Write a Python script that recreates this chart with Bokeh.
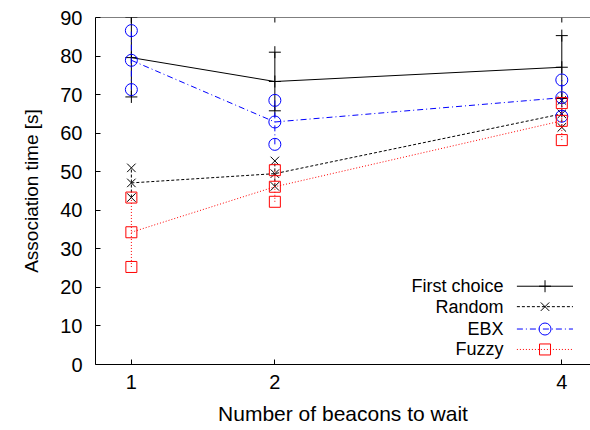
from bokeh.plotting import figure
from bokeh.models import FixedTicker, Range1d, Span
from bokeh.core.properties import value
from bokeh.embed import file_html
from bokeh.resources import INLINE

# ---- data ----
beacons = [1, 2, 4]
series_names = ["First choice", "Random", "EBX", "Fuzzy"]

first_mean = [79.6, 73.4, 77.1]
first_low = [69.4, 65.8, 69.0]
first_high = [90.0, 81.0, 85.3]

random_mean = [47.1, 49.5, 65.0]
random_low = [43.3, 46.2, 61.5]
random_high = [51.0, 52.8, 68.5]

ebx_mean = [78.9, 62.9, 69.2]
ebx_low = [71.3, 57.1, 64.4]
ebx_high = [86.6, 68.5, 73.8]

fuzzy_mean = [34.3, 46.1, 63.2]
fuzzy_low = [25.3, 42.2, 58.2]
fuzzy_high = [43.3, 50.4, 67.8]

y_ticks = [0, 10, 20, 30, 40, 50, 60, 70, 80, 90]
x_ticks = [1, 2, 4]

FONT = "Liberation Sans"
Y_MIN, Y_MAX = 0, 90

p = figure(width=590, height=430, output_backend="svg", toolbar_location=None,
           x_range=Range1d(0.75, 4.2), y_range=Range1d(Y_MIN, Y_MAX),
           min_border_left=95, min_border_right=0, min_border_top=17, min_border_bottom=66,
           x_axis_label="Number of beacons to wait", y_axis_label="Association time [s]")
p.outline_line_color = None
p.grid.visible = False
p.background_fill_color = "white"
p.border_fill_color = "white"

for ax in (p.xaxis[0], p.yaxis[0]):
    ax.major_tick_in = 5
    ax.major_tick_out = 0
    ax.minor_tick_in = 0
    ax.minor_tick_out = 0
    ax.axis_line_color = "black"
    ax.major_tick_line_color = "black"
    ax.major_label_text_font = FONT
    ax.major_label_text_font_size = "20px"
    ax.major_label_text_color = "black"
    ax.axis_label_text_font = FONT
    ax.axis_label_text_font_style = "normal"
    ax.axis_label_text_color = "black"

p.xaxis[0].axis_label_text_font_size = "21px"
p.yaxis[0].axis_label_text_font_size = "19px"
p.xaxis[0].ticker = FixedTicker(ticks=x_ticks)
p.yaxis[0].ticker = FixedTicker(ticks=y_ticks)
p.xaxis[0].major_label_standoff = 10
p.xaxis[0].axis_label_standoff = 10
p.yaxis[0].major_label_standoff = 13
p.yaxis[0].axis_label_standoff = 15

# top border line and mirrored inward ticks (gnuplot style)
p.add_layout(Span(location=Y_MAX, dimension="width", line_color="black", line_width=1))
tick_len = 5 / (347 / (Y_MAX - Y_MIN))
p.segment(x0=x_ticks, y0=[Y_MAX] * len(x_ticks), x1=x_ticks,
          y1=[Y_MAX - tick_len] * len(x_ticks), line_color="black", line_width=1)

styles = [
    (first_mean, first_low, first_high, "black", "solid", "cross", 12),
    (random_mean, random_low, random_high, "black", "3 2", "x", 12),
    (ebx_mean, ebx_low, ebx_high, "#0000ff", "6 3 1 3", "circle", 12),
    (fuzzy_mean, fuzzy_low, fuzzy_high, "#ff0000", "1 2", "square", 11),
]

for mean, low, high, color, dash, marker, size in styles:
    p.line(beacons, mean, line_color=color, line_dash=dash, line_width=1)
    p.segment(x0=beacons, y0=low, x1=beacons, y1=high, line_color=color,
              line_dash=dash, line_width=1)
    for vals in (low, mean, high):
        p.scatter(beacons, vals, marker=marker, size=size, line_color=color,
                  fill_color=None, line_width=1)

# ---- legend (gnuplot style: text right-aligned, sample to its right) ----
leg_text_x = 3.594
leg_x0, leg_x1, leg_xm = 3.687, 4.078, 3.883
leg_rows = [20.3, 15.0, 9.2, 3.9]
p.text(x=[leg_text_x] * 4, y=leg_rows, text=series_names, text_align="right",
       text_baseline="middle", text_font=value(FONT), text_font_size="18px",
       text_color="black")
for (mean, low, high, color, dash, marker, size), ry in zip(styles, leg_rows):
    p.segment(x0=[leg_x0], y0=[ry], x1=[leg_x1], y1=[ry], line_color=color,
              line_dash=dash, line_width=1)
    p.scatter([leg_xm], [ry], marker=marker, size=size, line_color=color,
              fill_color=None, line_width=1)

open("out.html", "w").write(file_html(p, INLINE))
